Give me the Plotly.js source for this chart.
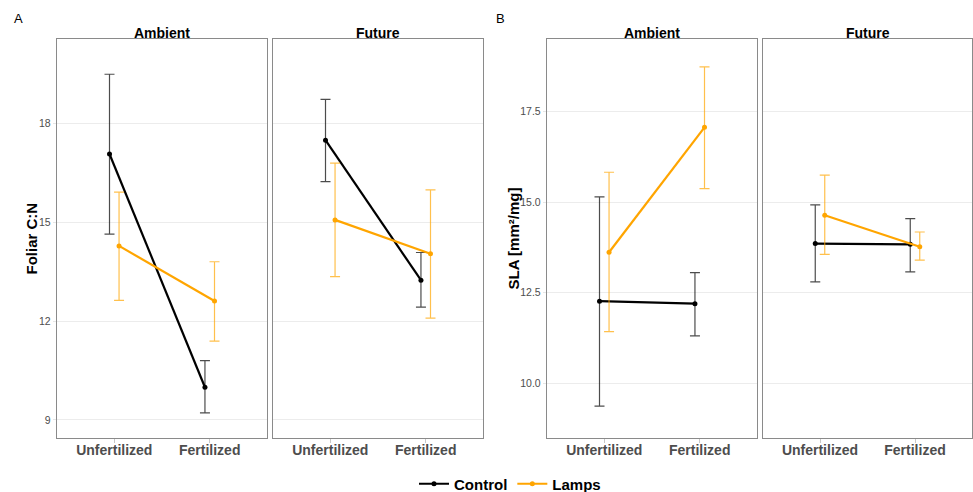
<!DOCTYPE html>
<html>
<head>
<meta charset="utf-8">
<script src="https://cdn.plot.ly/plotly-3.0.1.min.js"></script>
<style>html,body{margin:0;padding:0;background:#fff;}#chart{width:973px;height:492px;}</style>
</head>
<body>
<div id="chart"></div>
<script>
// ---- data ----
const categories = ['Unfertilized', 'Fertilized'];
const groups = ['Control', 'Lamps'];
const facets = ['Ambient', 'Future'];

// Panel A: Foliar C:N (mean, lower, upper)
const cnAmbientControl = [17.07, 9.99];
const cnAmbientControlLo = [14.64, 9.21];
const cnAmbientControlHi = [19.49, 10.80];
const cnAmbientLamps = [14.28, 12.61];
const cnAmbientLampsLo = [12.63, 11.39];
const cnAmbientLampsHi = [15.91, 13.80];
const cnFutureControl = [17.49, 13.24];
const cnFutureControlLo = [16.23, 12.42];
const cnFutureControlHi = [18.73, 14.08];
const cnFutureLamps = [15.07, 14.04];
const cnFutureLampsLo = [13.35, 12.09];
const cnFutureLampsHi = [16.79, 15.98];

// Panel B: SLA [mm²/mg]
const slaAmbientControl = [12.27, 12.20];
const slaAmbientControlLo = [9.37, 11.31];
const slaAmbientControlHi = [15.15, 13.06];
const slaAmbientLamps = [13.62, 17.07];
const slaAmbientLampsLo = [11.43, 15.38];
const slaAmbientLampsHi = [15.83, 18.74];
const slaFutureControl = [13.86, 13.84];
const slaFutureControlLo = [12.80, 13.08];
const slaFutureControlHi = [14.93, 14.55];
const slaFutureLamps = [14.64, 13.77];
const slaFutureLampsLo = [13.56, 13.40];
const slaFutureLampsHi = [15.75, 14.18];

const cnTicks = [9, 12, 15, 18];
const slaTicks = [10.0, 12.5, 15.0, 17.5];

// ---- styling ----
const lineColors = {Control: '#000000', Lamps: '#FFA500'};
const errColors = {Control: 'rgba(0,0,0,0.7)', Lamps: 'rgba(255,165,0,0.7)'};
const dodge = {Control: -0.05, Lamps: 0.05};
const FONT = 'Liberation Sans, Arial, sans-serif';

function mkTrace(group, mean, lo, hi, xa, ya, showLegend) {
  const pos = categories.map((c, i) => i + 1 + dodge[group]);
  return {
    type: 'scatter', mode: 'lines+markers',
    x: pos, y: mean,
    xaxis: xa, yaxis: ya,
    name: group, legendgroup: group, showlegend: showLegend,
    line: {color: lineColors[group], width: 2.2},
    marker: {color: lineColors[group], size: 5},
    error_y: {
      type: 'data', symmetric: false,
      array: mean.map((m, i) => hi[i] - m),
      arrayminus: mean.map((m, i) => m - lo[i]),
      color: errColors[group], thickness: 1.2, width: 5
    },
    hoverinfo: 'x+y+name'
  };
}

const traces = [
  mkTrace('Control', cnAmbientControl, cnAmbientControlLo, cnAmbientControlHi, 'x', 'y', true),
  mkTrace('Lamps', cnAmbientLamps, cnAmbientLampsLo, cnAmbientLampsHi, 'x', 'y', true),
  mkTrace('Control', cnFutureControl, cnFutureControlLo, cnFutureControlHi, 'x2', 'y2', false),
  mkTrace('Lamps', cnFutureLamps, cnFutureLampsLo, cnFutureLampsHi, 'x2', 'y2', false),
  mkTrace('Control', slaAmbientControl, slaAmbientControlLo, slaAmbientControlHi, 'x3', 'y3', false),
  mkTrace('Lamps', slaAmbientLamps, slaAmbientLampsLo, slaAmbientLampsHi, 'x3', 'y3', false),
  mkTrace('Control', slaFutureControl, slaFutureControlLo, slaFutureControlHi, 'x4', 'y4', false),
  mkTrace('Lamps', slaFutureLamps, slaFutureLampsLo, slaFutureLampsHi, 'x4', 'y4', false)
];

const W = 973, H = 492;
const yDom = [1 - 438 / H, 1 - 39 / H];
const xDoms = [[57 / W, 267 / W], [273 / W, 483 / W], [547 / W, 757 / W], [763 / W, 972 / W]];

function xAxis(i, anchor) {
  return {
    domain: xDoms[i], anchor: anchor, range: [0.4, 2.6],
    tickmode: 'array', tickvals: categories.map((c, k) => k + 1), ticktext: categories,
    tickfont: {family: FONT, size: 14, color: '#4D4D4D', weight: 'bold'},
    ticks: 'outside', ticklen: 4, tickcolor: '#c8c8c8',
    ticklabelstandoff: -5,
    showgrid: false, zeroline: false,
    showline: true, mirror: true, linecolor: '#8a8a8a', linewidth: 1.2,
    fixedrange: true, automargin: false
  };
}
function yAxis(i, anchor, range, ticks, fmt, showLabels) {
  return {
    domain: yDom, anchor: anchor, range: range,
    tickmode: 'array', tickvals: ticks, tickformat: fmt,
    showticklabels: showLabels,
    tickfont: {family: FONT, size: 10.5, color: '#4D4D4D'},
    ticks: showLabels ? 'outside' : '', ticklen: 3, tickcolor: '#e6e6e6',
    showgrid: true, gridcolor: '#ececec', gridwidth: 1, zeroline: false,
    showline: true, mirror: true, linecolor: '#8a8a8a', linewidth: 1.2,
    fixedrange: true, automargin: false
  };
}

const cnRange = [8.45, 20.56];
const slaRange = [8.49, 19.51];

const ann = [];
const stripY = 1 - 39 / H;
facets.forEach((f, k) => {
  [0, 2].forEach(base => {
    const d = xDoms[base + k];
    ann.push({xref: 'paper', yref: 'paper', x: (d[0] + d[1]) / 2, y: stripY, yanchor: 'bottom', xanchor: 'center',
      text: '<b>' + f + '</b>', showarrow: false, borderpad: 0, yshift: -3,
      font: {family: FONT, size: 14, color: '#000'}});
  });
});
ann.push({xref: 'paper', yref: 'paper', x: 18 / W, y: 1 - 19 / H, xanchor: 'center', yanchor: 'middle', text: 'A', showarrow: false,
  font: {family: FONT, size: 13, color: '#000'}});
ann.push({xref: 'paper', yref: 'paper', x: 500 / W, y: 1 - 19 / H, xanchor: 'center', yanchor: 'middle', text: 'B', showarrow: false,
  font: {family: FONT, size: 13, color: '#000'}});
ann.push({xref: 'paper', yref: 'paper', x: 31 / W, y: (yDom[0] + yDom[1]) / 2, xanchor: 'center', yanchor: 'middle',
  text: '<b>Foliar C:N</b>', textangle: -90,
  showarrow: false, font: {family: FONT, size: 15, color: '#000'}});
ann.push({xref: 'paper', yref: 'paper', x: 513 / W, y: (yDom[0] + yDom[1]) / 2, xanchor: 'center', yanchor: 'middle',
  text: '<b>SLA [mm²/mg]</b>', textangle: -90,
  showarrow: false, font: {family: FONT, size: 15, color: '#000'}});

const layout = {
  width: W, height: H,
  margin: {l: 0, r: 0, t: 0, b: 0, autoexpand: false},
  paper_bgcolor: '#fff', plot_bgcolor: '#fff',
  font: {family: FONT},
  xaxis: xAxis(0, 'y'), yaxis: yAxis(0, 'x', cnRange, cnTicks, '', true),
  xaxis2: xAxis(1, 'y2'), yaxis2: yAxis(1, 'x2', cnRange, cnTicks, '', false),
  xaxis3: xAxis(2, 'y3'), yaxis3: yAxis(2, 'x3', slaRange, slaTicks, '.1f', true),
  xaxis4: xAxis(3, 'y4'), yaxis4: yAxis(3, 'x4', slaRange, slaTicks, '.1f', false),
  showlegend: true,
  legend: {orientation: 'h', x: 510 / W, xanchor: 'center', y: 1 - 484 / H, yanchor: 'middle',
    font: {family: FONT, size: 15, color: '#000', weight: 'bold'}, itemwidth: 30, bgcolor: 'rgba(0,0,0,0)'},
  annotations: ann
};

Plotly.newPlot('chart', traces, layout, {displayModeBar: false, staticPlot: true});
</script>
</body>
</html>
